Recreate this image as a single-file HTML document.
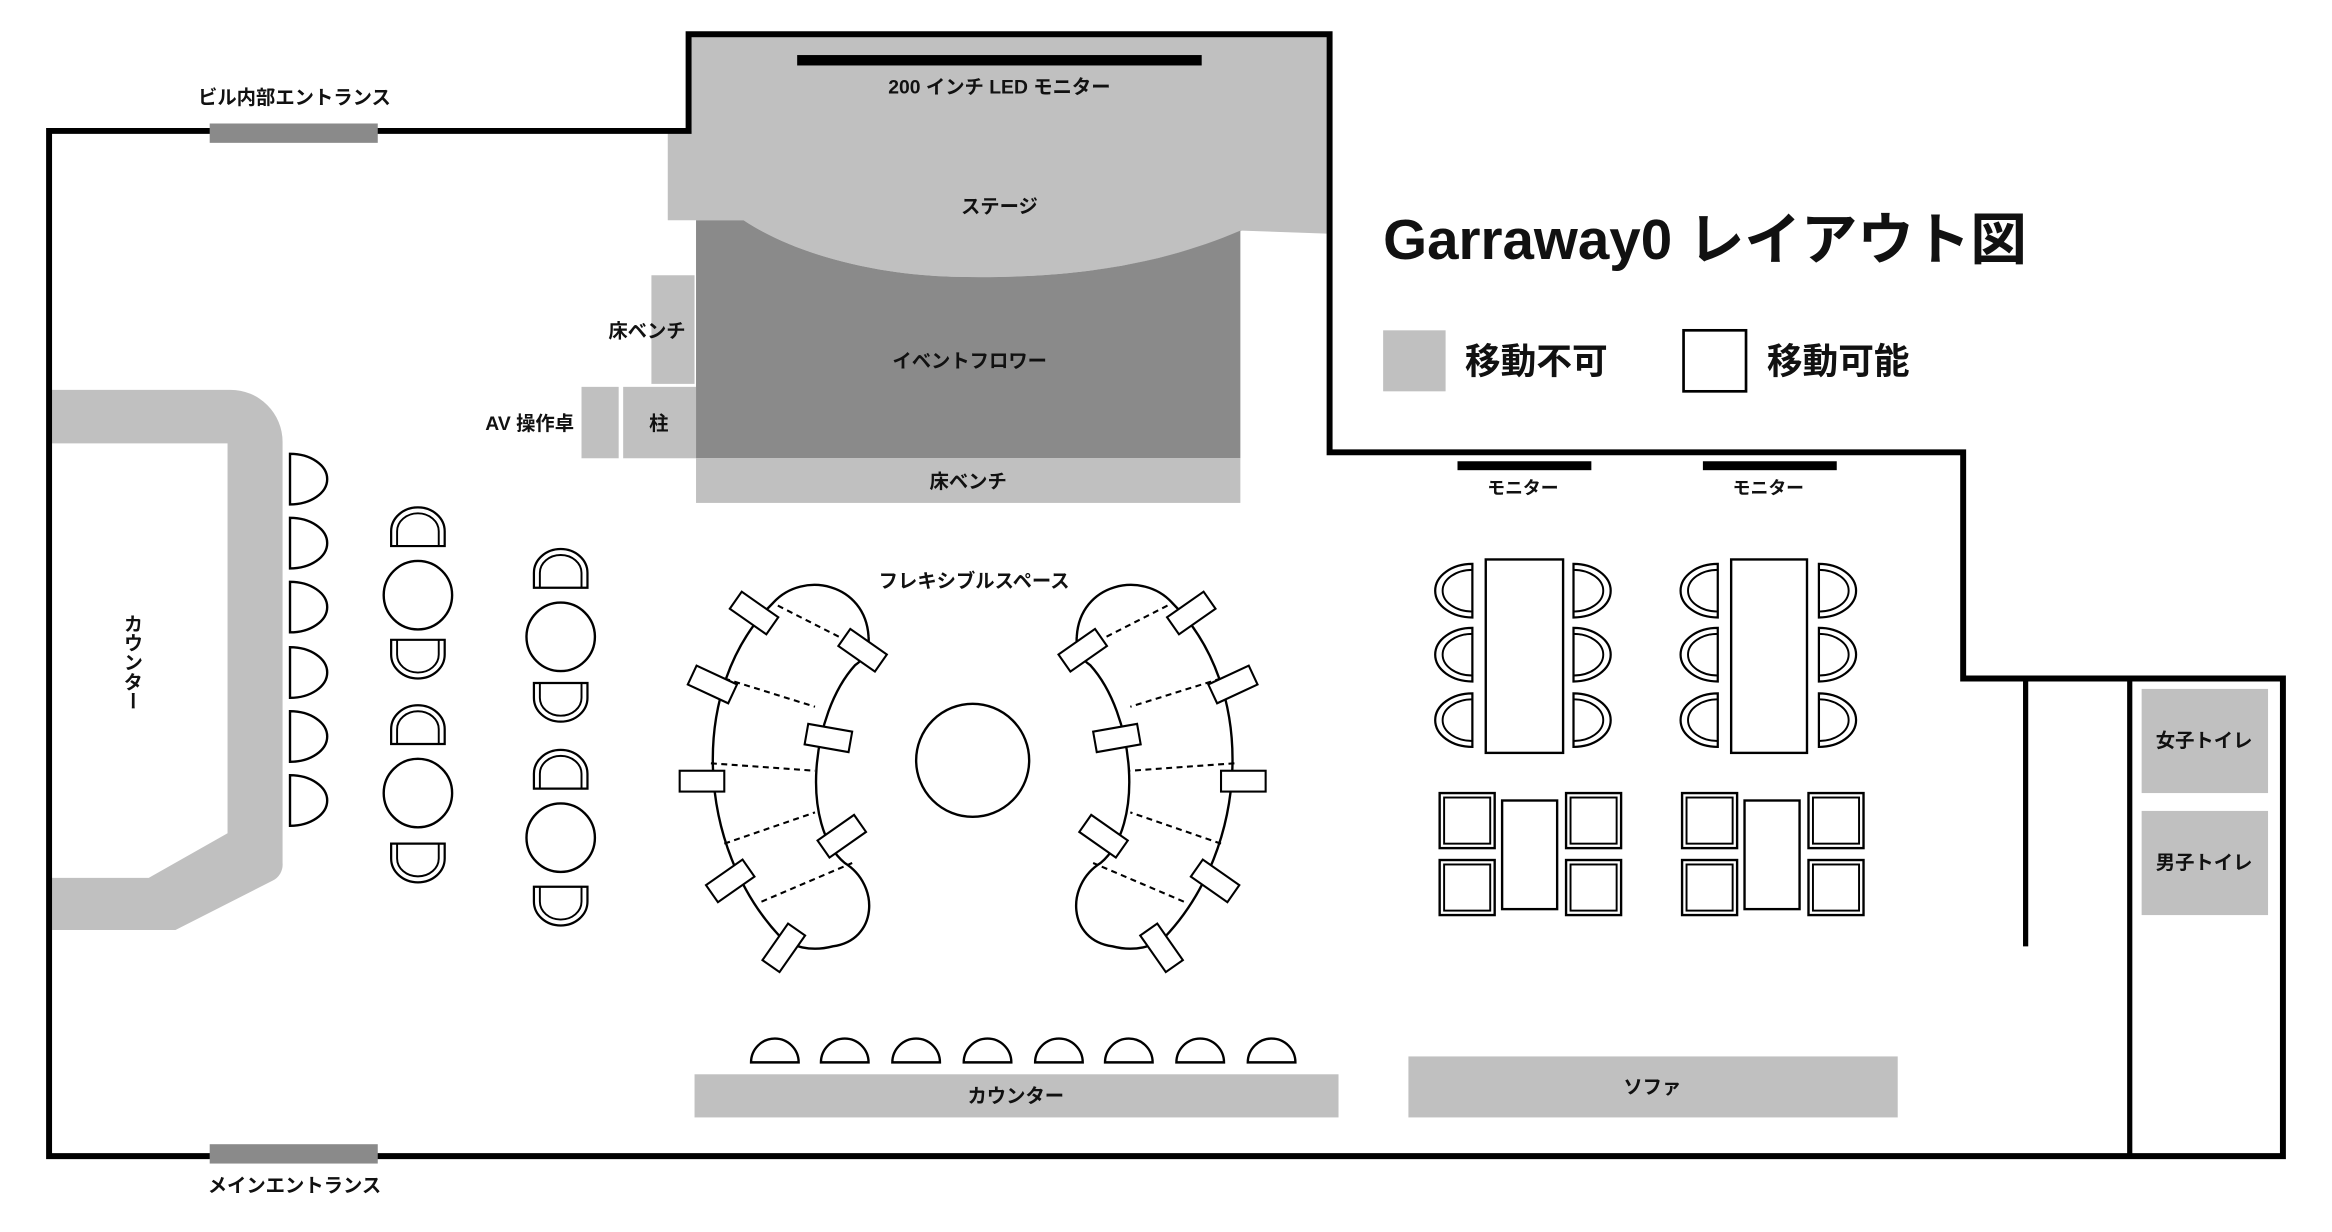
<!DOCTYPE html>
<html><head><meta charset="utf-8"><style>
html,body{margin:0;padding:0;background:#fff;}
svg{display:block;}
text{font-family:"Liberation Sans","Noto Sans CJK JP",sans-serif;font-weight:bold;fill:#111;}
</style></head><body>
<svg width="2332" height="1232" viewBox="0 0 1568 828" preserveAspectRatio="none" xmlns="http://www.w3.org/2000/svg">
<defs>
<g id="dr"><path d="M0,-17 A25,17 0 0 1 0,17 Z" fill="#fff" stroke="#000" stroke-width="1.6"/></g>
<g id="arch"><path d="M-18,0 L-18,-10 A18,16 0 0 1 18,-10 L18,0 Z" fill="#fff" stroke="#000" stroke-width="1.5"/><path d="M-14,0 L-14,-10 A14,12 0 0 1 14,-10 L14,0" fill="none" stroke="#000" stroke-width="1.3"/></g>
<g id="d2"><path d="M0,-18 A25,18 0 0 1 0,18 Z" fill="#fff" stroke="#000" stroke-width="1.5"/><path d="M0,-14 A20,14 0 0 1 0,14" fill="none" stroke="#000" stroke-width="1.3"/></g>
<g id="sq"><rect x="0" y="0" width="37" height="37" fill="#fff" stroke="#000" stroke-width="1.6"/><rect x="3" y="3" width="31" height="31" fill="none" stroke="#000" stroke-width="1.3"/></g>
<g id="st"><path d="M-16,0 A16,16 0 0 1 16,0 Z" fill="#fff" stroke="#000" stroke-width="1.6"/></g>
<g id="ch"><rect x="-15" y="-7" width="30" height="14" fill="#fff" stroke="#000" stroke-width="1.4"/></g>
<g id="cres">
<path d="M520,405 C540,383 582,392 584,428 C585,440 578,445 575,447 C545,480 538,555 568,580 C592,595 590,632 560,636 C545,640 532,636 525,630 C468,570 462,462 520,405 Z" fill="#fff" stroke="#000" stroke-width="1.6"/>
<g stroke="#000" stroke-width="1.4" stroke-dasharray="4,3">
<line x1="523" y1="407" x2="572" y2="432"/><line x1="487" y1="456" x2="548" y2="475"/><line x1="478" y1="513" x2="548" y2="518"/><line x1="487" y1="567" x2="548" y2="546"/><line x1="512" y1="606" x2="573" y2="580"/>
</g>
<use href="#ch" transform="translate(507,412) rotate(35)"/>
<use href="#ch" transform="translate(580,437) rotate(35)"/>
<use href="#ch" transform="translate(479,460) rotate(25)"/>
<use href="#ch" transform="translate(557,496) rotate(10)"/>
<use href="#ch" transform="translate(472,525)"/>
<use href="#ch" transform="translate(566,562) rotate(-35)"/>
<use href="#ch" transform="translate(491,592) rotate(-35)"/>
<use href="#ch" transform="translate(527,637) rotate(-55)"/>
</g>
</defs>

<path d="M465,25 L892,25 L892,157 L835,155 C780,178 720,188 640,186 C580,184 530,168 500,148 L449,148 L449,88 L465,88 Z" fill="#c0c0c0"/>
<path d="M468,148 L500,148 C530,168 580,184 640,186 C720,188 780,178 834,155 L834,308 L468,308 Z" fill="#8a8a8a"/>
<rect x="536" y="37" width="272" height="7" fill="#000"/>
<text x="672" y="63" font-size="13" text-anchor="middle">200 インチ LED モニター</text>
<text x="672" y="143" font-size="13" text-anchor="middle">ステージ</text>
<text x="652" y="247" font-size="13" text-anchor="middle">イベントフロワー</text>
<rect x="438" y="185" width="29" height="73" fill="#c0c0c0"/>
<text x="461" y="227" font-size="13" text-anchor="end">床ベンチ</text>
<rect x="391" y="260" width="25" height="48" fill="#c0c0c0"/>
<rect x="419" y="260" width="49" height="48" fill="#c0c0c0"/>
<text x="443" y="289" font-size="13" text-anchor="middle">柱</text>
<text x="386" y="289" font-size="13" text-anchor="end">AV 操作卓</text>
<rect x="468" y="308" width="366" height="30" fill="#c0c0c0"/>
<text x="651" y="328" font-size="13" text-anchor="middle">床ベンチ</text>

<path d="M35,262 L155,262 A35,35 0 0 1 190,297 L190,580 A12,12 0 0 1 183,592 L118,625 L35,625 L35,590 L100,590 L153,560 L153,298 L35,298 Z" fill="#c0c0c0"/>
<text x="88" y="445" font-size="13" text-anchor="middle" writing-mode="tb">カウンター</text>

<path d="M33,88 L463,88 L463,23 L894,23 L894,304 L1320,304 L1320,456 L1535,456 L1535,777 L33,777 Z" fill="none" stroke="#000" stroke-width="4"/>
<line x1="1362" y1="456" x2="1362" y2="636" stroke="#000" stroke-width="3.5"/>
<line x1="1432" y1="456" x2="1432" y2="777" stroke="#000" stroke-width="3.5"/>
<rect x="141" y="83" width="113" height="13" fill="#8a8a8a"/>
<rect x="141" y="769" width="113" height="13" fill="#8a8a8a"/>
<text x="198" y="70" font-size="13" text-anchor="middle">ビル内部エントランス</text>
<text x="198" y="801" font-size="13" text-anchor="middle">メインエントランス</text>

<use href="#dr" x="195" y="322"/><use href="#dr" x="195" y="365"/><use href="#dr" x="195" y="408"/>
<use href="#dr" x="195" y="452"/><use href="#dr" x="195" y="495"/><use href="#dr" x="195" y="538"/>

<g fill="#fff" stroke="#000" stroke-width="1.6">
<circle cx="281" cy="400" r="23"/><circle cx="281" cy="533" r="23"/>
<circle cx="377" cy="428" r="23"/><circle cx="377" cy="563" r="23"/>
<circle cx="654" cy="511" r="38"/>
</g>
<use href="#arch" transform="translate(281,367)"/>
<use href="#arch" transform="translate(281,430) rotate(180)"/>
<use href="#arch" transform="translate(281,500)"/>
<use href="#arch" transform="translate(281,567) rotate(180)"/>
<use href="#arch" transform="translate(377,395)"/>
<use href="#arch" transform="translate(377,459) rotate(180)"/>
<use href="#arch" transform="translate(377,530)"/>
<use href="#arch" transform="translate(377,596) rotate(180)"/>

<text x="655" y="395" font-size="13" text-anchor="middle">フレキシブルスペース</text>
<use href="#cres"/>
<use href="#cres" transform="translate(1308,0) scale(-1,1)"/>

<use href="#st" x="521" y="714"/><use href="#st" x="568" y="714"/><use href="#st" x="616" y="714"/><use href="#st" x="664" y="714"/>
<use href="#st" x="712" y="714"/><use href="#st" x="759" y="714"/><use href="#st" x="807" y="714"/><use href="#st" x="855" y="714"/>
<rect x="467" y="722" width="433" height="29" fill="#c0c0c0"/>
<text x="683" y="741" font-size="13" text-anchor="middle">カウンター</text>
<rect x="947" y="710" width="329" height="41" fill="#c0c0c0"/>
<text x="1111" y="735" font-size="13" text-anchor="middle">ソファ</text>

<text x="930" y="174" font-size="38">Garraway0 レイアウト図</text>
<rect x="930" y="222" width="42" height="41" fill="#c0c0c0"/>
<text x="985" y="251" font-size="24">移動不可</text>
<rect x="1132" y="222" width="42" height="41" fill="#fff" stroke="#000" stroke-width="1.8"/>
<text x="1188" y="251" font-size="24">移動可能</text>

<rect x="980" y="310" width="90" height="6" fill="#000"/>
<rect x="1145" y="310" width="90" height="6" fill="#000"/>
<text x="1024" y="332" font-size="12" text-anchor="middle">モニター</text>
<text x="1189" y="332" font-size="12" text-anchor="middle">モニター</text>

<g fill="#fff" stroke="#000" stroke-width="1.6">
<rect x="999" y="376" width="52" height="130"/>
<rect x="1164" y="376" width="51" height="130"/>
<rect x="1010" y="538" width="37" height="73"/>
<rect x="1173" y="538" width="37" height="73"/>
</g>
<use href="#d2" transform="translate(990,397) scale(-1,1)"/><use href="#d2" transform="translate(990,440) scale(-1,1)"/><use href="#d2" transform="translate(990,484) scale(-1,1)"/>
<use href="#d2" transform="translate(1058,397)"/><use href="#d2" transform="translate(1058,440)"/><use href="#d2" transform="translate(1058,484)"/>
<use href="#d2" transform="translate(1155,397) scale(-1,1)"/><use href="#d2" transform="translate(1155,440) scale(-1,1)"/><use href="#d2" transform="translate(1155,484) scale(-1,1)"/>
<use href="#d2" transform="translate(1223,397)"/><use href="#d2" transform="translate(1223,440)"/><use href="#d2" transform="translate(1223,484)"/>
<use href="#sq" x="968" y="533"/><use href="#sq" x="1053" y="533"/><use href="#sq" x="968" y="578"/><use href="#sq" x="1053" y="578"/>
<use href="#sq" x="1131" y="533"/><use href="#sq" x="1216" y="533"/><use href="#sq" x="1131" y="578"/><use href="#sq" x="1216" y="578"/>

<rect x="1440" y="463" width="85" height="70" fill="#c0c0c0"/>
<rect x="1440" y="545" width="85" height="70" fill="#c0c0c0"/>
<text x="1482" y="502" font-size="13" text-anchor="middle">女子トイレ</text>
<text x="1482" y="584" font-size="13" text-anchor="middle">男子トイレ</text>
</svg>
</body></html>
